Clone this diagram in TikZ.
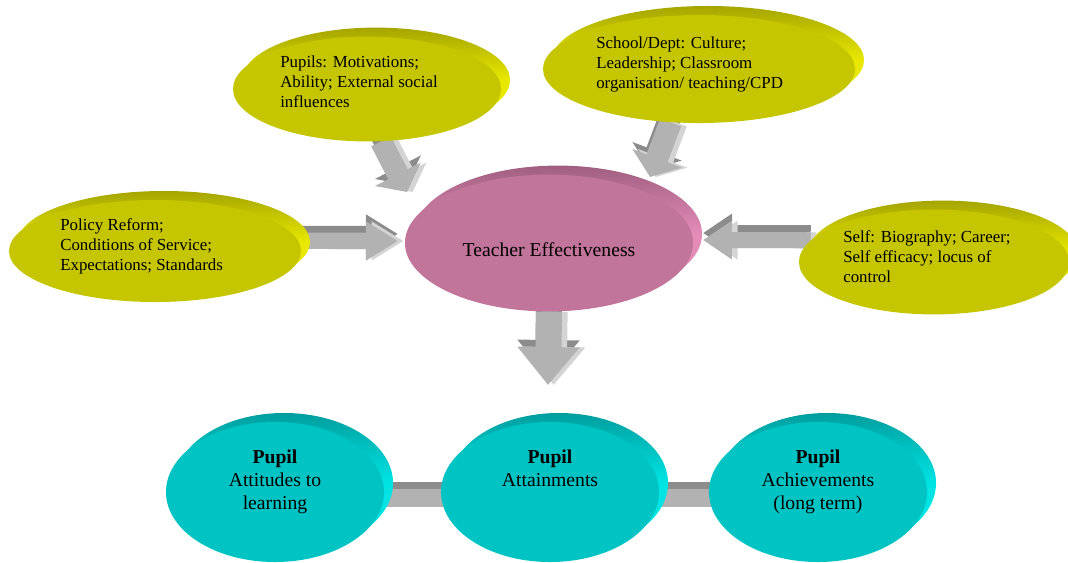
\documentclass[tikz,border=0pt]{standalone}
\usepackage{fontspec}
\setmainfont{Liberation Serif}
\usetikzlibrary{shapes.geometric,shadows,arrows.meta,backgrounds}

\definecolor{yfill}{RGB}{198,198,0}
\definecolor{ytop}{RGB}{165,165,0}
\definecolor{yside}{RGB}{232,232,0}
\definecolor{pfill}{RGB}{194,117,155}
\definecolor{ptop}{RGB}{160,95,128}
\definecolor{pside}{RGB}{228,140,184}
\definecolor{tfill}{RGB}{0,196,196}
\definecolor{ttop}{RGB}{0,158,158}
\definecolor{tside}{RGB}{0,228,228}
\definecolor{afill}{RGB}{178,178,178}
\definecolor{atop}{RGB}{140,140,140}
\definecolor{aside}{RGB}{212,212,212}

\tikzset{
  blob/.style={ellipse, inner sep=0pt},
  rim/.style 2 args={general shadow={shadow xshift=6.4pt, shadow yshift=6.4pt,
      top color=#1, bottom color=#2, middle color=#2}},
  yblob/.style={blob, fill=yfill, rim={ytop}{yside}},
  pblob/.style={blob, fill=pfill, rim={ptop}{pside}},
  tblob/.style={blob, fill=tfill, rim={ttop}{tside}},
  note/.style={anchor=west, align=left, inner sep=0pt, font=\fontsize{12}{14.2}\selectfont},
  big/.style={align=center, inner sep=0pt, font=\fontsize{14}{16.2}\selectfont},
  flow/.style 2 args={line width=#1, draw=afill, -{Triangle[width=0pt 2.3, length=#2]}},
  flowtop/.style 2 args={flow={#1}{#2}, draw=atop, transform canvas={yshift=5pt}},
  flowside/.style 2 args={flow={#1}{#2}, draw=aside, transform canvas={xshift=4pt}},
  bar/.style={line width=12.8pt, draw=afill},
  bartop/.style={bar, draw=atop, transform canvas={yshift=5pt}},
}

\begin{document}
\begin{tikzpicture}[x=0.025cm, y=-0.025cm]
    \useasboundingbox (0,0) rectangle (1068,562);

    % the factors round the teacher
    \node[yblob, minimum width=7.3cm, minimum height=2.55cm] (pol) at (155,251) {};
    \node[yblob, minimum width=6.7cm, minimum height=2.62cm] (pup) at (367,89) {};
    \node[yblob, minimum width=7.8cm, minimum height=2.7cm] (sch) at (699,69) {};
    \node[yblob, minimum width=6.75cm, minimum height=2.62cm] (self) at (934,262) {};
    \node[pblob, big, text height=19pt, minimum width=7.2cm, minimum height=3.42cm] (te) at (549,243) {Teacher Effectiveness};

    % the texts
    \node[note] (polt) at (60,246) {Policy Reform;\\Conditions of Service;\\Expectations; Standards};
    \node[note] (pupt) at (280,82) {Pupils: Motivations;\\Ability; External social\\influences};
    \node[note] (scht) at (596,64) {School/Dept: Culture;\\Leadership; Classroom\\organisation/ teaching/CPD};
    \node[note] (selft) at (843,257) {Self: Biography; Career;\\Self efficacy; locus of\\control};

    % the pupil outcomes
    \node[tblob, minimum width=5.45cm, minimum height=3.5cm] (att1) at (275,492) {};
    \node[tblob, minimum width=5.45cm, minimum height=3.5cm] (att2) at (550,492) {};
    \node[tblob, minimum width=5.45cm, minimum height=3.5cm] (att3) at (818,492) {};
    \node[big, anchor=north] (att1t) at (275,450) {\textbf{Pupil}\\Attitudes to\\learning};
    \node[big, anchor=north] (att2t) at (550,450) {\textbf{Pupil}\\Attainments};
    \node[big, anchor=north] (att3t) at (818,450) {\textbf{Pupil}\\Achievements\\(long term)};

    % the arrow tips (they stop short of the ellipses)
    \coordinate (tpol) at (398,241);
    \coordinate (tpup) at (407,192);
    \coordinate (tsch) at (650,177);
    \coordinate (tself) at (703,240);
    \coordinate (tatt) at (548,385);

    % draw the arrows behind the ellipses
    \begin{scope}[on background layer]
        \foreach \a/\b/\w/\l in {pol.4/tpol/11.4pt/22.8pt, pup.-75/tpup/15.6pt/14.2pt,
                sch.-118/tsch/16pt/14.2pt, self.170/tself/11.4pt/20.6pt, te.south/tatt/18.5pt/27pt}{
            \draw[flowtop={\w}{\l}] (\a) -- (\b);
            \draw[flowside={\w}{\l}] (\a) -- (\b);
            \draw[flow={\w}{\l}] (\a) -- (\b);
        }
        \foreach \a/\b in {att1/att2, att2/att3}{
            \draw[bartop] ([yshift=-4.3pt]\a.center) -- ([yshift=-4.3pt]\b.center);
            \draw[bar] ([yshift=-4.3pt]\a.center) -- ([yshift=-4.3pt]\b.center);
        }
    \end{scope}

\end{tikzpicture}
\end{document}
